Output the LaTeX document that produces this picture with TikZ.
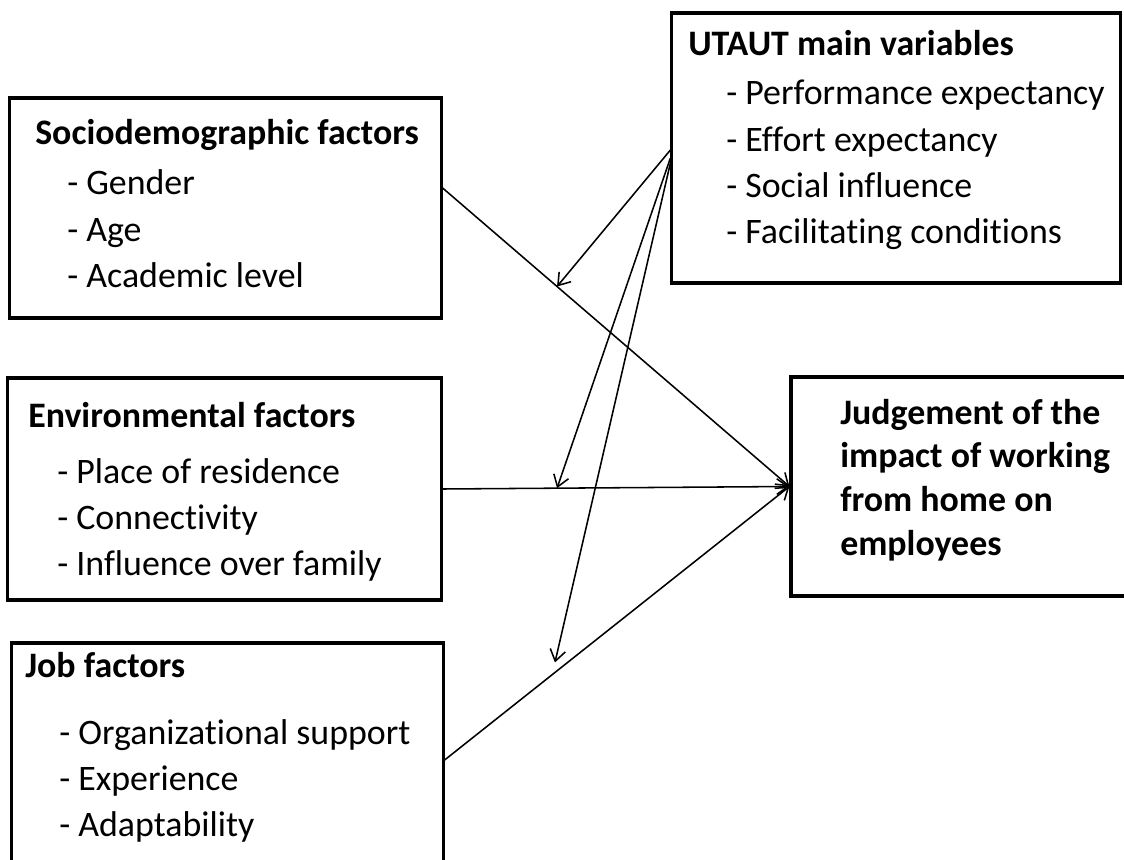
\documentclass[tikz,border=0pt]{standalone}
\usepackage{fontspec}
\setmainfont[Ligatures={NoCommon,NoContextual}, Contextuals=NoAlternate]{Carlito}
\usetikzlibrary{positioning,arrows.meta}

\tikzset{
  box/.style={draw, rectangle, line width=2.2pt},
  head/.style={font=\fontsize{25.5}{31}\selectfont\bfseries, anchor=west, inner sep=0pt},
  items/.style={font=\fontsize{25.5}{33}\selectfont, align=left, anchor=west, inner sep=0pt},
  link/.style={line width=1.1pt},
  arr/.style={link, -{Straight Barb[length=8pt,width=11pt]}}
}

\begin{document}
\begin{tikzpicture}[x=0.025cm, y=-0.025cm]
  \useasboundingbox (0,0) rectangle (1124,860);

  % boxes
  \node[box, minimum width=10.775cm, minimum height=5.5cm] (socio) at (225.5,208) {};
  \node[box, minimum width=11.2cm, minimum height=6.75cm] (utaut) at (896,148) {};
  \node[box, minimum width=10.825cm, minimum height=5.55cm] (env) at (224.5,489) {};
  \node[box, minimum width=8.725cm, minimum height=5.475cm] (judge) at (965.5,486.5) {};
  \node[box, minimum width=10.775cm, minimum height=5.85cm] (job) at (227.5,760) {};

  % texts
  \node[head] (socioHead) at (35,135) {Sociodemographic factors};
  \node[items] (socioList) at (67,229) {- Gender\\- Age\\- Academic level};

  \node[head] (utautHead) at (688,43) {UTAUT main variables};
  \node[items] (utautList) at (726,165) {- Performance expectancy\\- Effort expectancy\\- Social influence\\- Facilitating conditions};

  \node[head] (envHead) at (28,415) {Environmental factors};
  \node[items] (envList) at (57,520) {- Place of residence\\- Connectivity\\- Influence over family};

  \node[head] (jobHead) at (25,665) {Job factors};
  \node[items] (jobList) at (59,781) {- Organizational support\\- Experience\\- Adaptability};

  \node[head, align=left] (judgeText) at (840,480) {Judgement of the\\impact of working\\from home on\\employees};

  % factors -> judgement
  \draw[arr] ([yshift=0.5cm]socio.east) -- (judge.west) coordinate[pos=0.33] (socioMid);
  \draw[arr] (env.east) -- (judge.west) coordinate[pos=0.33] (envMid);
  \draw[arr] (job.east) -- (judge.west) coordinate[pos=0.32] (jobMid);

  % UTAUT moderating arrows
  \draw[arr] ([yshift=-0.05cm]utaut.west) -- (socioMid);
  \draw[arr] ([yshift=-0.25cm]utaut.west) -- (envMid);
  \draw[arr] ([yshift=-0.375cm]utaut.west) -- ([yshift=0.25cm]jobMid);
\end{tikzpicture}
\end{document}
